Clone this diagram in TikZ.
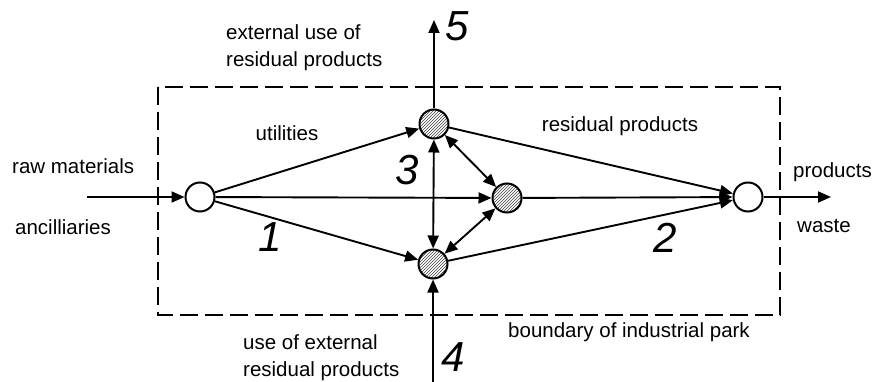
\documentclass[tikz,border=0pt]{standalone}
\usepackage{fontspec}
\setmainfont{Liberation Sans}
\usetikzlibrary{arrows.meta,patterns}
\begin{document}
\begin{tikzpicture}[x=1pt,y=-1pt,
 every node/.style={font=\fontsize{20.5}{27}\selectfont},
 lbl/.style={inner sep=0pt},
 num/.style={inner sep=0pt,font=\fontsize{42}{42}\selectfont\itshape},
 plain/.style={circle,draw,line width=2pt,minimum size=29pt,inner sep=0pt,fill=white},
 hatched/.style={circle,draw,line width=2pt,minimum size=29pt,inner sep=0pt,preaction={fill=white},pattern=north east lines,pattern color=black!75},
 conn/.style={line width=1.9pt,-{Triangle[length=13pt,width=11pt]}},
 both/.style={line width=1.9pt,{Triangle[length=13pt,width=11pt]}-{Triangle[length=13pt,width=11pt]}},
 boundary/.style={line width=1.9pt,dash pattern=on 18pt off 7pt}]
\useasboundingbox (0,0) rectangle (874,382);
\draw[boundary] (158,87) rectangle (780,315);
% nodes
\node[plain] (L) at (200,197) {};
\node[hatched] (T) at (434,124) {};
\node[hatched] (M) at (507,198) {};
\node[hatched] (B) at (433,264) {};
\node[plain] (R) at (748,197) {};
\coordinate (in) at (87,197);
\coordinate (out) at (831,197);
\coordinate (top) at (434,20);
\coordinate (bot) at (433,382);
% connectors
\draw[conn] (in) -- (L);
\draw[conn] (R) -- (out);
\draw[conn] (T) -- (top);
\draw[conn] (bot) -- (B);
\draw[conn] (L) -- (T);
\draw[conn] (L) -- (M);
\draw[conn] (L) -- (B);
\draw[conn] (T) -- (R);
\draw[conn] (M) -- (R);
\draw[conn] (B) -- (R);
\draw[both] (T) -- (B);
\draw[both] (T) -- (M);
\draw[both] (M) -- (B);
% labels
\node[lbl,anchor=west,align=left] (ext) at (226,48) {external use of\\residual products};
\node[lbl] (util) at (287,133) {utilities};
\node[lbl] (resid) at (620,126) {residual products};
\node[lbl,anchor=west] (raw) at (12,166) {raw materials};
\node[lbl,anchor=west] (anc) at (15,227) {ancilliaries};
\node[lbl,anchor=west] (prod) at (793,172) {products};
\node[lbl,anchor=west] (waste) at (797,226) {waste};
\node[lbl,anchor=west] (bnd) at (508,332) {boundary of industrial park};
\node[lbl,anchor=west,align=left] (useext) at (243,358) {use of external\\residual products};
\node[num] (n5) at (457,26) {5};
\node[num] (n3) at (407,170) {3};
\node[num] (n1) at (270,237) {1};
\node[num] (n2) at (665,238) {2};
\node[num] (n4) at (453,357) {4};
\end{tikzpicture}
\end{document}
